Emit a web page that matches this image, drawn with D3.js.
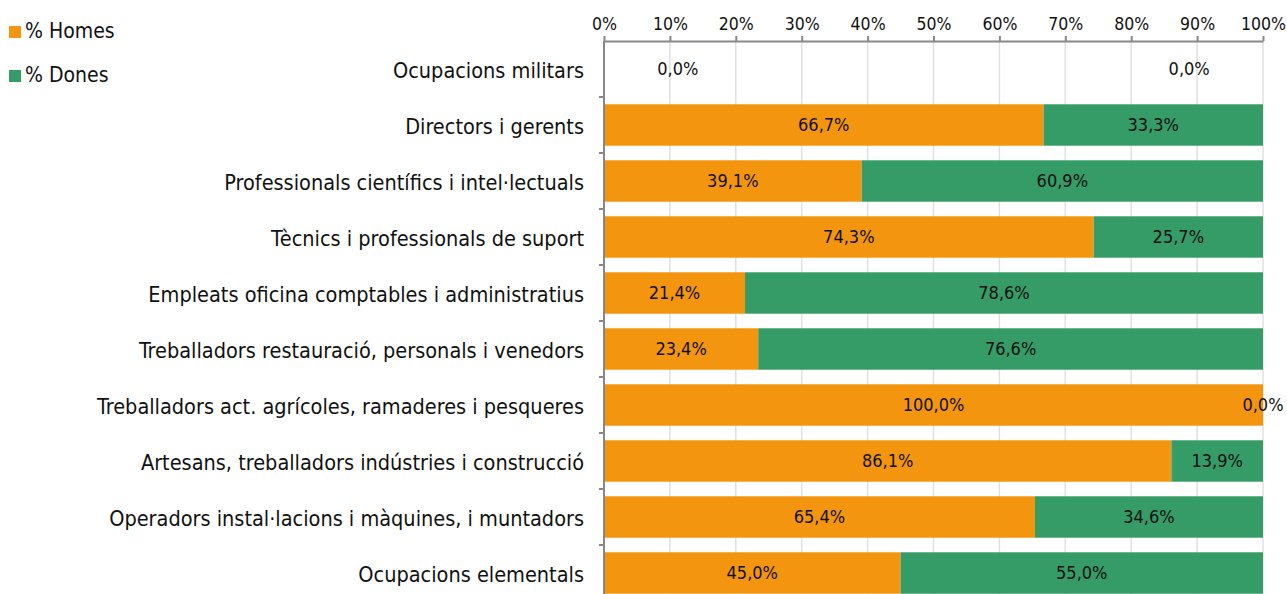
<!DOCTYPE html>
<head>
<meta charset="utf-8">
<script src="https://d3js.org/d3.v7.min.js"></script>
<style>
  body { margin:0; background:#fff; }
  text { font-family: "DejaVu Sans Condensed", "DejaVu Sans", sans-serif; font-stretch: condensed; fill:#111; }
</style>
</head>
<body>
<div id="chart"></div>
<script>
// ******************** Data ************************
var categories = [
  "Ocupacions militars",
  "Directors i gerents",
  "Professionals científics i intel·lectuals",
  "Tècnics i professionals de suport",
  "Empleats oficina comptables i administratius",
  "Treballadors restauració, personals i venedors",
  "Treballadors act. agrícoles, ramaderes i pesqueres",
  "Artesans, treballadors indústries i construcció",
  "Operadors instal·lacions i màquines, i muntadors",
  "Ocupacions elementals"
];
var homes = [0, 66.7, 39.1, 74.3, 21.4, 23.4, 100, 86.1, 65.4, 45.0];
var dones = [0, 33.3, 60.9, 25.7, 78.6, 76.6, 0, 13.9, 34.6, 55.0];
var seriesNames = ["% Homes", "% Dones"];
var colors = ["#F3950E", "#359B67"];
var ticks = d3.range(0, 101, 10);

var W = 1287, H = 594;
var mLeft = 604, mRight = 1263, mTop = 41;

var x = d3.scaleLinear().domain([0, 100]).range([mLeft, mRight]);
var y = d3.scaleBand().domain(categories).range([mTop, mTop + 56 * categories.length])
  .paddingInner(0.26).paddingOuter(0.13);

var svg = d3.select("#chart").append("svg").attr("width", W).attr("height", H);

// gridlines
svg.append("g").selectAll("line").data(ticks.slice(1)).enter().append("line")
  .attr("x1", d => x(d)).attr("x2", d => x(d))
  .attr("y1", mTop).attr("y2", H)
  .attr("stroke", "#e0e0e0").attr("stroke-width", 1.5);

// bars
var rows = categories.map(function (c, i) { return { cat: c, h: homes[i], d: dones[i] }; });
var g = svg.append("g");
rows.forEach(function (r) {
  g.append("rect").attr("x", x(0)).attr("y", y(r.cat))
    .attr("width", x(r.h) - x(0)).attr("height", y.bandwidth()).attr("fill", colors[0]);
  g.append("rect").attr("x", x(r.h)).attr("y", y(r.cat))
    .attr("width", x(r.h + r.d) - x(r.h)).attr("height", y.bandwidth()).attr("fill", colors[1]);
});

// value labels
var fmt = function (v) { return v.toFixed(1).replace(".", ",") + "%"; };
rows.forEach(function (r) {
  var cy = y(r.cat) + y.bandwidth() / 2;
  var hx = x(r.h / 2), dx = x(r.h + r.d / 2);
  if (r.h === 0 && r.d === 0) { hx = x(11.2); dx = x(88.8); }
  g.append("text").attr("x", hx).attr("y", cy).attr("dy", "0.35em")
    .attr("text-anchor", "middle").style("font-size", "18px").text(fmt(r.h));
  g.append("text").attr("x", dx).attr("y", cy).attr("dy", "0.35em")
    .attr("text-anchor", "middle").style("font-size", "18px").text(fmt(r.d));
});

// top axis
var ax = svg.append("g").attr("transform", "translate(0," + mTop + ")")
  .call(d3.axisTop(x).tickValues(ticks).tickFormat(d => d + "%").tickSize(5).tickSizeOuter(0));
ax.select(".domain").attr("stroke", "#888").attr("stroke-width", 2);
ax.selectAll(".tick line").attr("stroke", "#888").attr("stroke-width", 2);
ax.selectAll(".tick text").style("font-size", "17.5px").style("font-family", null).attr("fill", "#111").attr("y", -11);

// left axis
svg.append("line").attr("x1", mLeft).attr("x2", mLeft).attr("y1", mTop).attr("y2", H)
  .attr("stroke", "#888").attr("stroke-width", 2);
svg.append("g").selectAll("line").data(categories).enter().append("line")
  .attr("x1", mLeft - 5).attr("x2", mLeft)
  .attr("y1", d => y(d) + y.bandwidth() + y.step() * y.paddingInner() / 2)
  .attr("y2", d => y(d) + y.bandwidth() + y.step() * y.paddingInner() / 2)
  .attr("stroke", "#888").attr("stroke-width", 2);

svg.append("g").selectAll("text").data(categories).enter().append("text")
  .attr("x", mLeft - 20).attr("y", d => y(d) + y.bandwidth() / 2 + 1).attr("dy", "0.35em")
  .attr("text-anchor", "end").style("font-size", "21.5px").text(d => d);

// legend
var lg = svg.append("g");
seriesNames.forEach(function (s, i) {
  lg.append("rect").attr("x", 9).attr("y", 26 + i * 44).attr("width", 12).attr("height", 12).attr("fill", colors[i]);
  lg.append("text").attr("x", 25).attr("y", 31 + i * 44).attr("dy", "0.35em")
    .style("font-size", "21px").text(s);
});
</script>
</body>
